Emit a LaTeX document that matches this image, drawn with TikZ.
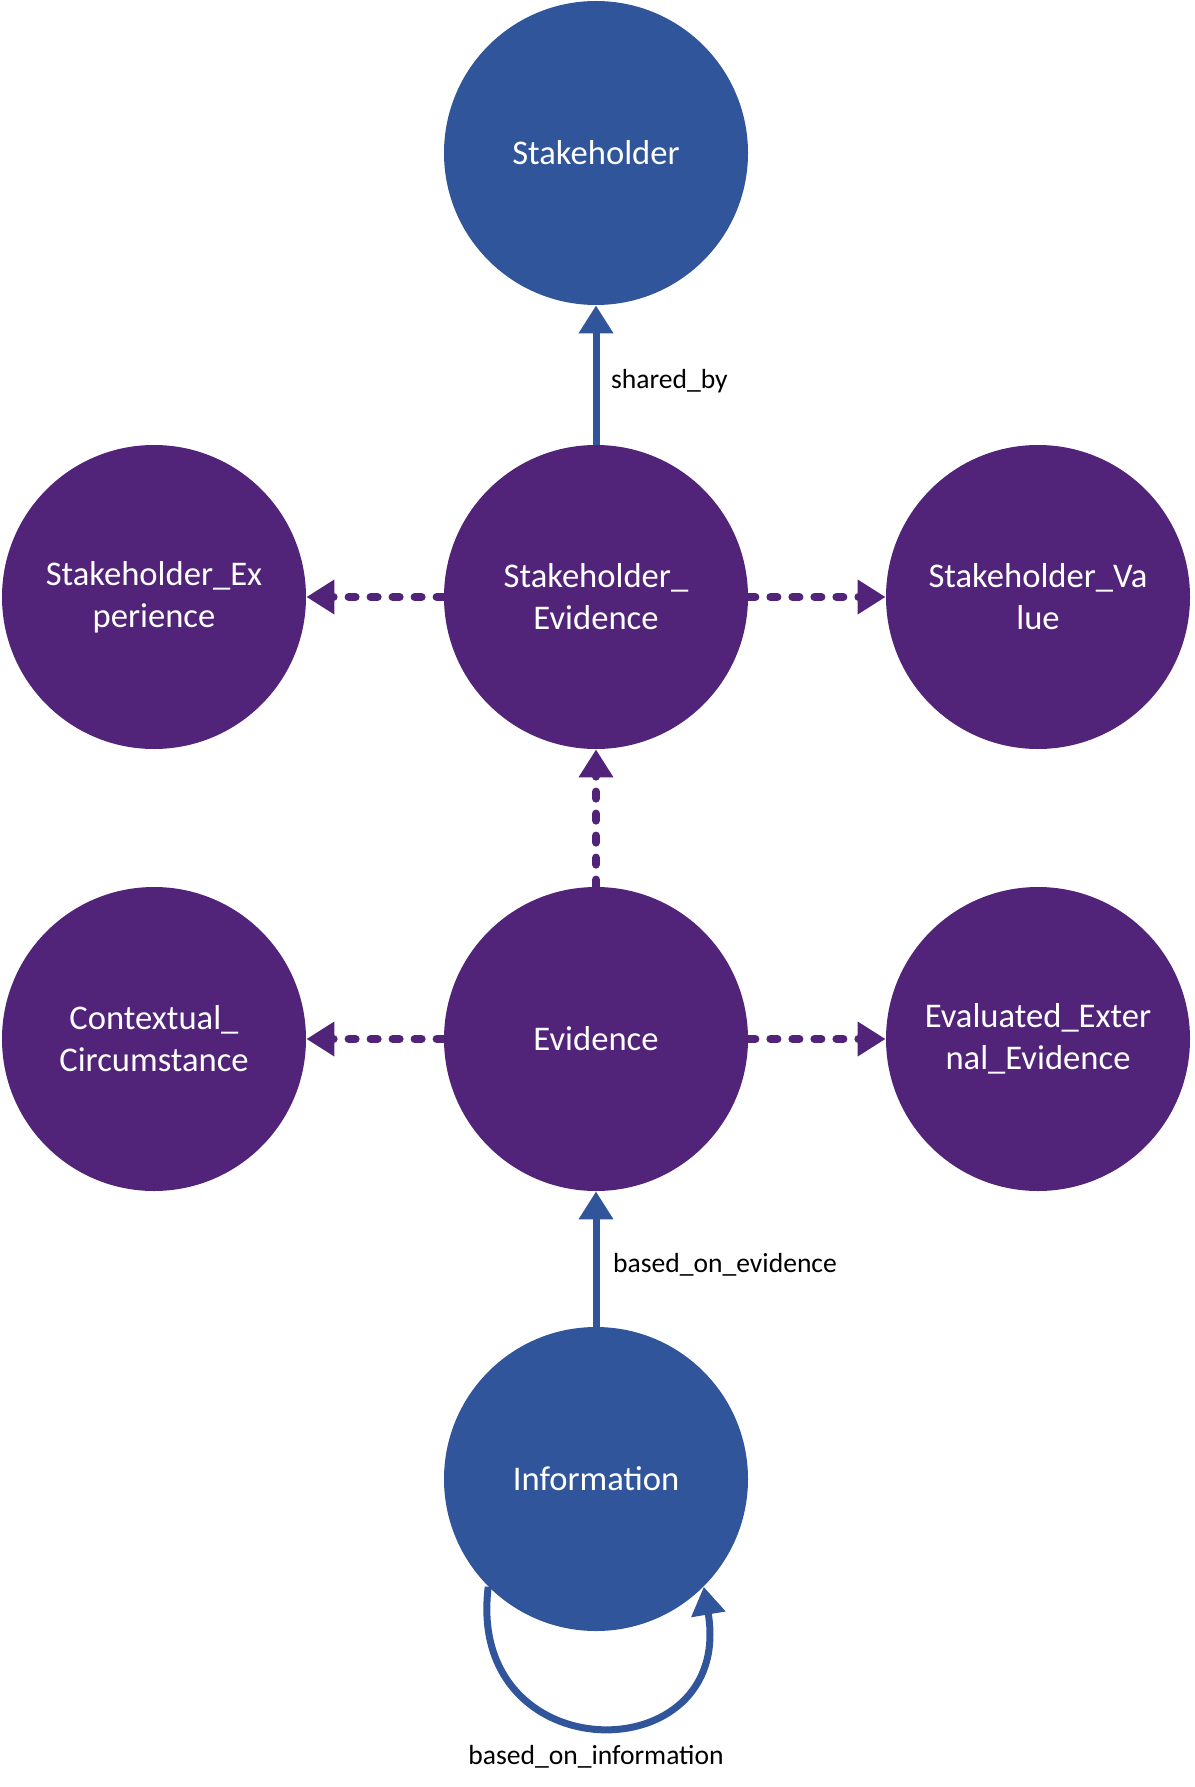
\documentclass[tikz,border=0pt]{standalone}
\usepackage{fontspec}
\setmainfont{Carlito}
\usetikzlibrary{arrows.meta}

\definecolor{nodeblue}{RGB}{49,85,154}
\definecolor{nodepurple}{RGB}{81,36,122}

\begin{document}
\begin{tikzpicture}[x=0.5pt,y=-0.5pt,
  blueball/.style={circle, fill=nodeblue, minimum size=152pt, inner sep=0pt,
    text=white, align=center, font=\fontsize{17.3}{21}\selectfont},
  purpleball/.style={blueball, fill=nodepurple},
  solidlink/.style={draw=nodeblue, line width=3.5pt,
    -{Triangle[width=16.5pt,length=14pt]}},
  dashlink/.style={draw=nodepurple, line width=4pt, line cap=round,
    dash pattern=on 3.5pt off 7.5pt, -{Triangle[width=16.5pt,length=14pt]}},
  linklabel/.style={font=\fontsize{13.8}{16}\selectfont}]

\useasboundingbox (0,0) rectangle (1194,1787);

% circles
\node[blueball] (stake) at (596,153) {Stakeholder};

\node[purpleball] (sexp) at (154,597) {Stakeholder\_Ex\\perience};
\node[purpleball] (sevid) at (596,597) {Stakeholder\_\\Evidence};
\node[purpleball] (sval) at (1038,597) {Stakeholder\_Va\\lue};

\node[purpleball] (ctx) at (154,1039) {Contextual\_\\Circumstance};
\node[purpleball] (evid) at (596,1039) {Evidence};
\node[purpleball] (eext) at (1038,1039) {Evaluated\_Exter\\nal\_Evidence};

\node[blueball] (info) at (596,1479) {Information};

% links
\draw[solidlink] (sevid) -- (stake);
\draw[solidlink] (info) -- (evid);
\draw[solidlink] (info.-135) .. controls (465,1773) and (735,1773) .. (info.-45);

\draw[dashlink] (sevid) -- (sexp);
\draw[dashlink] (sevid) -- (sval);
\draw[dashlink] (evid) -- (sevid);
\draw[dashlink] (evid) -- (ctx);
\draw[dashlink] (evid) -- (eext);

% labels
\node[linklabel, anchor=west] (lshared) at (604,381) {shared\_by};
\node[linklabel, anchor=west] (levid) at (606,1265) {based\_on\_evidence};
\node[linklabel] (linfo) at (596,1757) {based\_on\_information};

\end{tikzpicture}
\end{document}
